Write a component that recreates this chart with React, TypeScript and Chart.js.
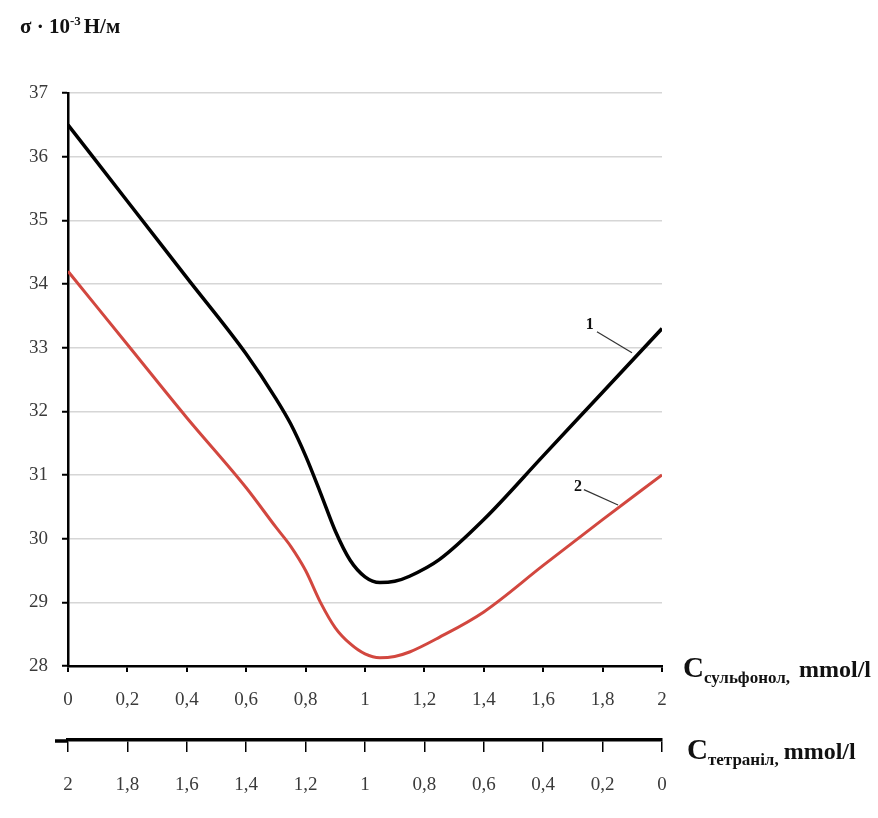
import { useEffect, useRef } from 'react';
import { Chart, registerables } from 'chart.js';
Chart.register(...registerables);

// Sulfonol concentration, mmol/l
const sulfonolX = [0, 0.2, 0.4, 0.6, 0.7, 0.75, 0.8, 0.85, 0.9, 0.95, 1.0, 1.05, 1.1, 1.15, 1.25, 1.4, 1.6, 1.8, 2.0];
// Curve 1 (black), σ·10^-3 N/m
const curve1 = [36.5, 35.3, 34.1, 32.9, 32.2, 31.8, 31.3, 30.72, 30.12, 29.66, 29.4, 29.31, 29.33, 29.41, 29.67, 30.3, 31.3, 32.3, 33.3];
// Curve 2 (red)
const curve2 = [34.2, 33.05, 31.9, 30.8, 30.18, 29.88, 29.5, 29.0, 28.6, 28.35, 28.19, 28.13, 28.15, 28.22, 28.45, 28.85, 29.58, 30.3, 31.0];

const yMin = 28;
const yMax = 37;
const xMin = 0;
const xMax = 2;
const xStep = 0.2;

// Curve number labels (data coords): label position, leader start, leader end
const curveNames = ['1', '2'];
const namePos = [[1.757, 33.36], [1.717, 30.81]];
const leaderStart = [[1.781, 33.25], [1.737, 30.77]];
const leaderEnd = [[1.899, 32.92], [1.852, 30.53]];

const SERIF = '"Liberation Serif", "Times New Roman", serif';

const fmt = (v: number) => {
  const s = (Math.round(v * 10) / 10).toFixed(1).replace('.', ',');
  return s.endsWith(',0') ? s.slice(0, -2) : s;
};

const textPlugin = {
  id: 'texts',
  afterDraw(chart: any) {
    const { ctx, chartArea, scales } = chart;
    const xs = scales.x, ys = scales.y, x2 = scales.x2;
    ctx.save();
    ctx.fillStyle = '#111';
    ctx.textAlign = 'left';
    ctx.textBaseline = 'alphabetic';

    // Y title
    let tx = 20;
    const tb = 33;
    ctx.font = `bold 21px ${SERIF}`;
    ctx.fillText('σ · 10', tx, tb);
    tx += ctx.measureText('σ · 10').width;
    ctx.font = `bold 13px ${SERIF}`;
    ctx.fillText('-3', tx, tb - 8);
    tx += ctx.measureText('-3').width + 3;
    ctx.font = `bold 21px ${SERIF}`;
    ctx.fillText('Н/м', tx, tb);

    const axisTitle = (x0: number, base: number, sub: string, gap: number) => {
      let x = x0;
      ctx.font = `bold 29px ${SERIF}`;
      ctx.fillText('C', x, base);
      x += ctx.measureText('C').width;
      ctx.font = `bold 17px ${SERIF}`;
      ctx.fillText(sub, x, base + 6);
      x += ctx.measureText(sub).width + gap;
      ctx.font = `bold 24px ${SERIF}`;
      ctx.fillText('mmol/l', x, base);
    };
    axisTitle(chartArea.right + 21, xs.top + 11, 'сульфонол,', 9);
    axisTitle(chartArea.right + 25, x2.top + 19, 'тетраніл,', 5);

    // extend tetranil axis line to the left
    ctx.strokeStyle = '#000';
    ctx.lineWidth = 3.5;
    ctx.beginPath();
    ctx.moveTo(x2.left - 13, x2.top + 1);
    ctx.lineTo(x2.left, x2.top + 1);
    ctx.stroke();

    // curve names with leaders
    ctx.font = `bold 16px ${SERIF}`;
    ctx.textAlign = 'center';
    ctx.textBaseline = 'middle';
    ctx.lineWidth = 1.2;
    ctx.strokeStyle = '#333';
    curveNames.forEach((n, i) => {
      ctx.fillText(n, xs.getPixelForValue(namePos[i][0]), ys.getPixelForValue(namePos[i][1]));
      ctx.beginPath();
      ctx.moveTo(xs.getPixelForValue(leaderStart[i][0]), ys.getPixelForValue(leaderStart[i][1]));
      ctx.lineTo(xs.getPixelForValue(leaderEnd[i][0]), ys.getPixelForValue(leaderEnd[i][1]));
      ctx.stroke();
    });
    ctx.restore();
  },
};

export default function App() {
  const ref = useRef<HTMLCanvasElement>(null);
  useEffect(() => {
    document.body.style.margin = '0';
    const c = ref.current!;
    const tickFont = { family: SERIF, size: 19 };
    const chart = new Chart(c, {
      type: 'line',
      data: {
        datasets: [
          {
            data: sulfonolX.map((x, i) => ({ x, y: curve1[i] })),
            borderColor: '#000',
            borderWidth: 3.5,
            pointRadius: 0,
            cubicInterpolationMode: 'monotone',
            fill: false,
          },
          {
            data: sulfonolX.map((x, i) => ({ x, y: curve2[i] })),
            borderColor: '#d2473f',
            borderWidth: 3,
            pointRadius: 0,
            cubicInterpolationMode: 'monotone',
            fill: false,
          },
        ],
      },
      options: {
        responsive: false,
        animation: false,
        layout: { padding: { top: 93, left: 0, right: 216, bottom: 18 } },
        plugins: { legend: { display: false }, tooltip: { enabled: false } },
        scales: {
          y: {
            type: 'linear',
            min: yMin,
            max: yMax,
            afterFit: (s: any) => { s.width = 68; },
            ticks: { stepSize: 1, padding: 14, color: '#3a3a3a', font: tickFont },
            grid: { color: '#d6d6d6', lineWidth: 1.5, drawTicks: true, tickLength: 6, tickColor: '#000', tickWidth: 2 },
            border: { display: true, color: '#000', width: 2.5 },
          },
          x: {
            type: 'linear',
            position: 'bottom',
            weight: 0,
            min: xMin,
            max: xMax,
            afterFit: (s: any) => { s.height = 74; },
            ticks: { stepSize: xStep, padding: 17, color: '#3a3a3a', maxRotation: 0, font: tickFont, callback: (v: any) => fmt(Number(v)) },
            grid: { drawOnChartArea: false, drawTicks: true, tickLength: 6, tickColor: '#000', lineWidth: 2 },
            border: { display: true, color: '#000', width: 2.5 },
          },
          x2: {
            type: 'linear',
            position: 'bottom',
            weight: 1,
            reverse: true,
            min: xMin,
            max: xMax,
            afterFit: (s: any) => { s.height = 60; },
            ticks: { stepSize: xStep, padding: 22, color: '#3a3a3a', maxRotation: 0, font: tickFont, callback: (v: any) => fmt(Number(v)) },
            grid: { drawOnChartArea: false, drawTicks: true, tickLength: 12, tickColor: '#000', lineWidth: 1.5 },
            border: { display: true, color: '#000', width: 3.5 },
          },
        },
      },
      plugins: [textPlugin],
    } as any);
    return () => chart.destroy();
  }, []);
  return (
    <div style={{ width: 878, height: 818, background: '#fff' }}>
      <canvas ref={ref} width={878} height={818} style={{ display: 'block' }} />
    </div>
  );
}
